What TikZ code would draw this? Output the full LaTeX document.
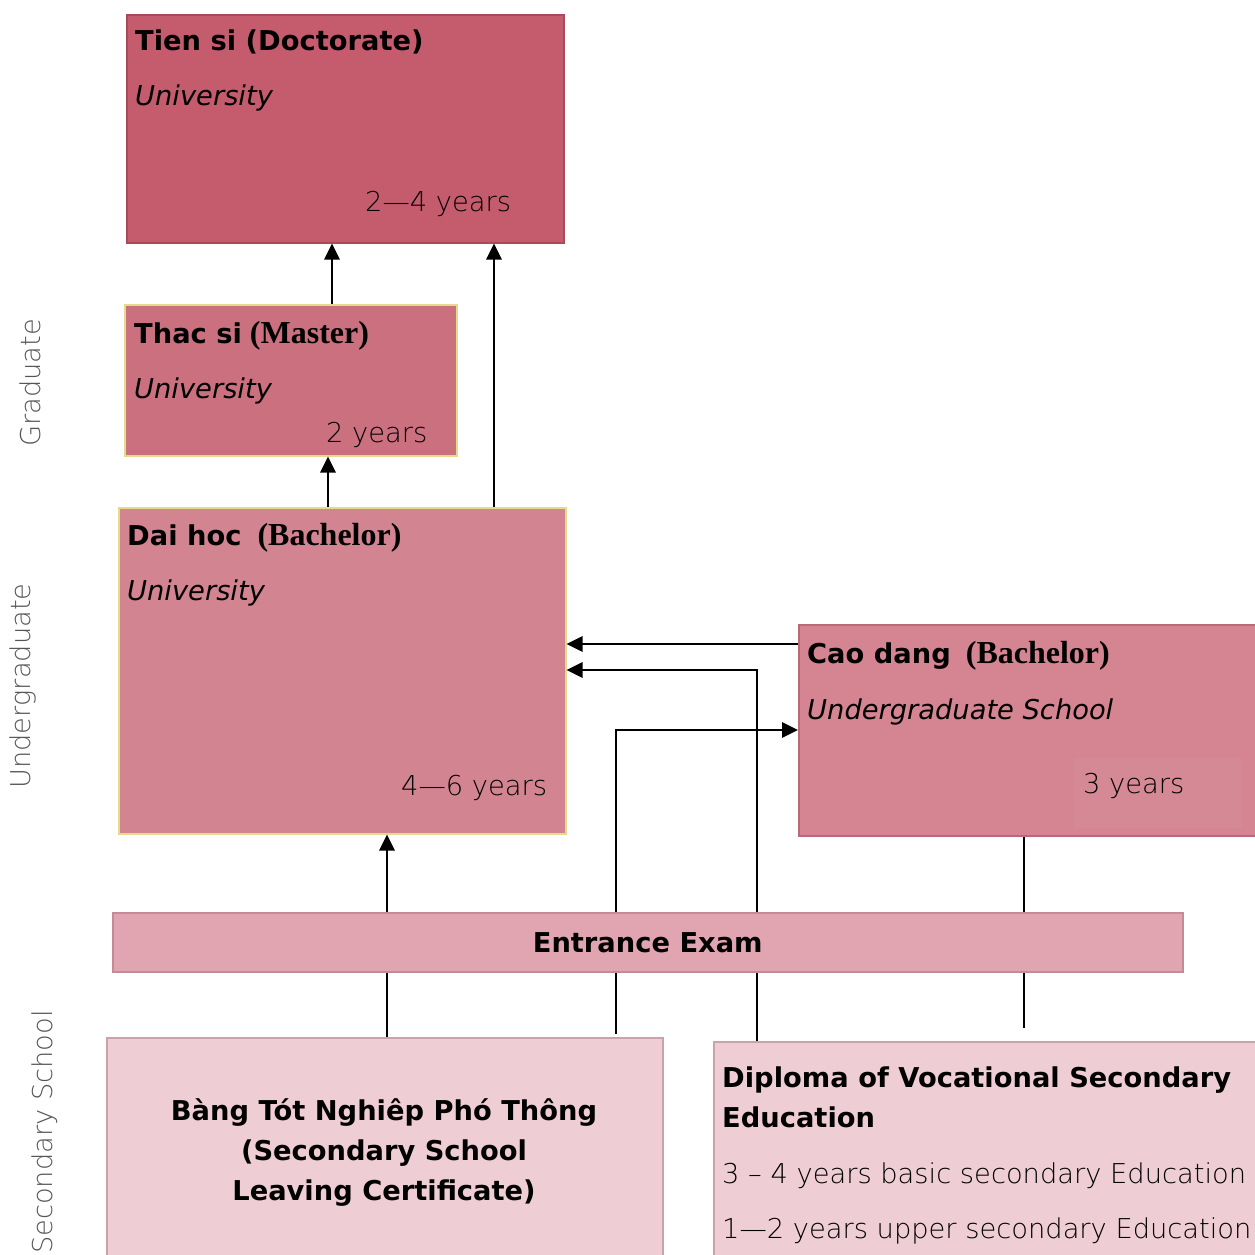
\documentclass[tikz,border=0pt]{standalone}
\usepackage{fontspec}
\setmainfont{DejaVu Sans}
\newfontfamily\lightf{DejaVu Sans ExtraLight}
\newfontfamily\timesf{Liberation Serif}
\usetikzlibrary{arrows.meta}
\definecolor{tsfill}{HTML}{C45C6E}
\definecolor{tsdraw}{HTML}{A84A5C}
\definecolor{thfill}{HTML}{CA707F}
\definecolor{dhfill}{HTML}{D38491}
\definecolor{ylw}{HTML}{E2DC8C}
\definecolor{cdfill}{HTML}{D48591}
\definecolor{cddraw}{HTML}{B86A78}
\definecolor{exfill}{HTML}{E0A5B0}
\definecolor{exdraw}{HTML}{C48A96}
\definecolor{secfill}{HTML}{EFCDD4}
\definecolor{secdraw}{HTML}{C9A2AA}
\definecolor{sidegray}{HTML}{555555}
\begin{document}
\begin{tikzpicture}[x=1pt,y=-1pt,
  fs/.style={font=\fontsize{27.3}{33}\selectfont},
  box/.style={draw, line width=1.5pt, inner sep=0pt, anchor=north west, rectangle},
  txt/.style={anchor=base west, inner sep=0pt, font=\fontsize{27.3}{33}\selectfont},
  bold/.style={txt, font=\fontsize{27.3}{33}\selectfont\bfseries},
  ital/.style={txt, font=\fontsize{27.3}{33}\selectfont\itshape},
  yrs/.style={txt, font=\fontsize{27.3}{33}\selectfont\lightf},
  side/.style={rotate=90, inner sep=0pt, text=sidegray, font=\fontsize{27.3}{33}\selectfont\lightf},
  arr/.style={line width=2.8pt, -{Triangle[length=16pt,width=15pt]}},
  ln/.style={line width=2.2pt}]
\useasboundingbox (0,0) rectangle (1255,1254);

% boxes
\node[box, fill=tsfill, draw=tsdraw, minimum width=437pt, minimum height=228pt] (ts) at (126,14) {};
\node[box, fill=thfill, draw=ylw, minimum width=332pt, minimum height=151pt] (th) at (124,304) {};
\node[box, fill=dhfill, draw=ylw, minimum width=447pt, minimum height=326pt] (dh) at (118,507) {};
\node[box, fill=cdfill, draw=cddraw, minimum width=457pt, minimum height=211pt] (cd) at (798,624) {};
\fill[fill=cdfill!97!white] (1074,758) rectangle (1242,828);
\node[box, fill=secfill, draw=secdraw, minimum width=556pt, minimum height=240pt] (bang) at (106,1037) {};
\node[box, fill=secfill, draw=secdraw, minimum width=560pt, minimum height=240pt] (dip) at (713,1041) {};

% texts
\node[bold] (tst) at (135,50) {Tien si (Doctorate)};
\node[ital] (tsu) at (135,105) {University};
\node[yrs] (tsy) at (365,211) {2—4 years};

\node[bold] (tht) at (134,343) {Thac si\hspace{8pt}{\timesf\fontsize{32}{36}\selectfont\bfseries (Master)}};
\node[ital] (thu) at (134,398) {University};
\node[yrs] (thy) at (326,442) {2 years};

\node[bold] (dht) at (127,545) {Dai hoc\hspace{16pt}{\timesf\fontsize{32}{36}\selectfont\bfseries (Bachelor)}};
\node[ital] (dhu) at (127,600) {University};
\node[yrs] (dhy) at (401,795) {4—6 years};

\node[bold] (cdt) at (807,663) {Cao dang\hspace{15pt}{\timesf\fontsize{32}{36}\selectfont\bfseries (Bachelor)}};
\node[ital] (cdu) at (807,719) {Undergraduate School};
\node[yrs] (cdy) at (1083,793) {3 years};

\node[bold, anchor=base] (b1) at (384,1120) {Bàng Tót Nghiêp Phó Thông};
\node[bold, anchor=base] (b2) at (384,1160) {(Secondary School};
\node[bold, anchor=base] (b3) at (384,1200) {Leaving Certificate)};

\node[bold] (d1) at (722,1087) {Diploma of Vocational Secondary};
\node[bold] (d2) at (722,1127) {Education};
\node[yrs] (d3) at (722,1183) {3 – 4 years basic secondary Education};
\node[yrs] (d4) at (722,1238) {1—2 years upper secondary Education};

% side labels
\node[side] (sg) at (30,383) {Graduate};
\node[side] (su) at (23,686) {Undergraduate};
\node[side] (ss) at (45,1132) {Secondary School};

% connectors
\draw[arr] ([xshift=208pt]th.north west) -- ([xshift=206pt]ts.south west);
\draw[arr] ([xshift=376pt]dh.north west) -- ([xshift=368pt]ts.south west);
\draw[arr] ([xshift=210pt]dh.north west) -- ([xshift=204pt]th.south west);
\draw[arr] ([yshift=-20pt]cd.north west) -- ([yshift=-137pt]dh.north east);
\draw[arr] ([xshift=44pt]dip.north west) |- ([yshift=-163pt]dh.north east);
\draw[arr] ([xshift=510pt,yshift=3pt]bang.north west) |- ([yshift=-106pt]cd.north west);
\draw[arr] ([xshift=281pt]bang.north west) -- ([xshift=269pt]dh.south west);
\coordinate (e8) at (1024,1028);
\draw[ln] ([xshift=226pt]cd.south west) -- (e8);

% entrance exam (over the connectors)
\node[box, fill=exfill, draw=exdraw, minimum width=1070pt, minimum height=59pt, fs, font=\fontsize{27.3}{33}\selectfont\bfseries] (ex) at (112,912) {Entrance Exam};
\end{tikzpicture}
\end{document}
